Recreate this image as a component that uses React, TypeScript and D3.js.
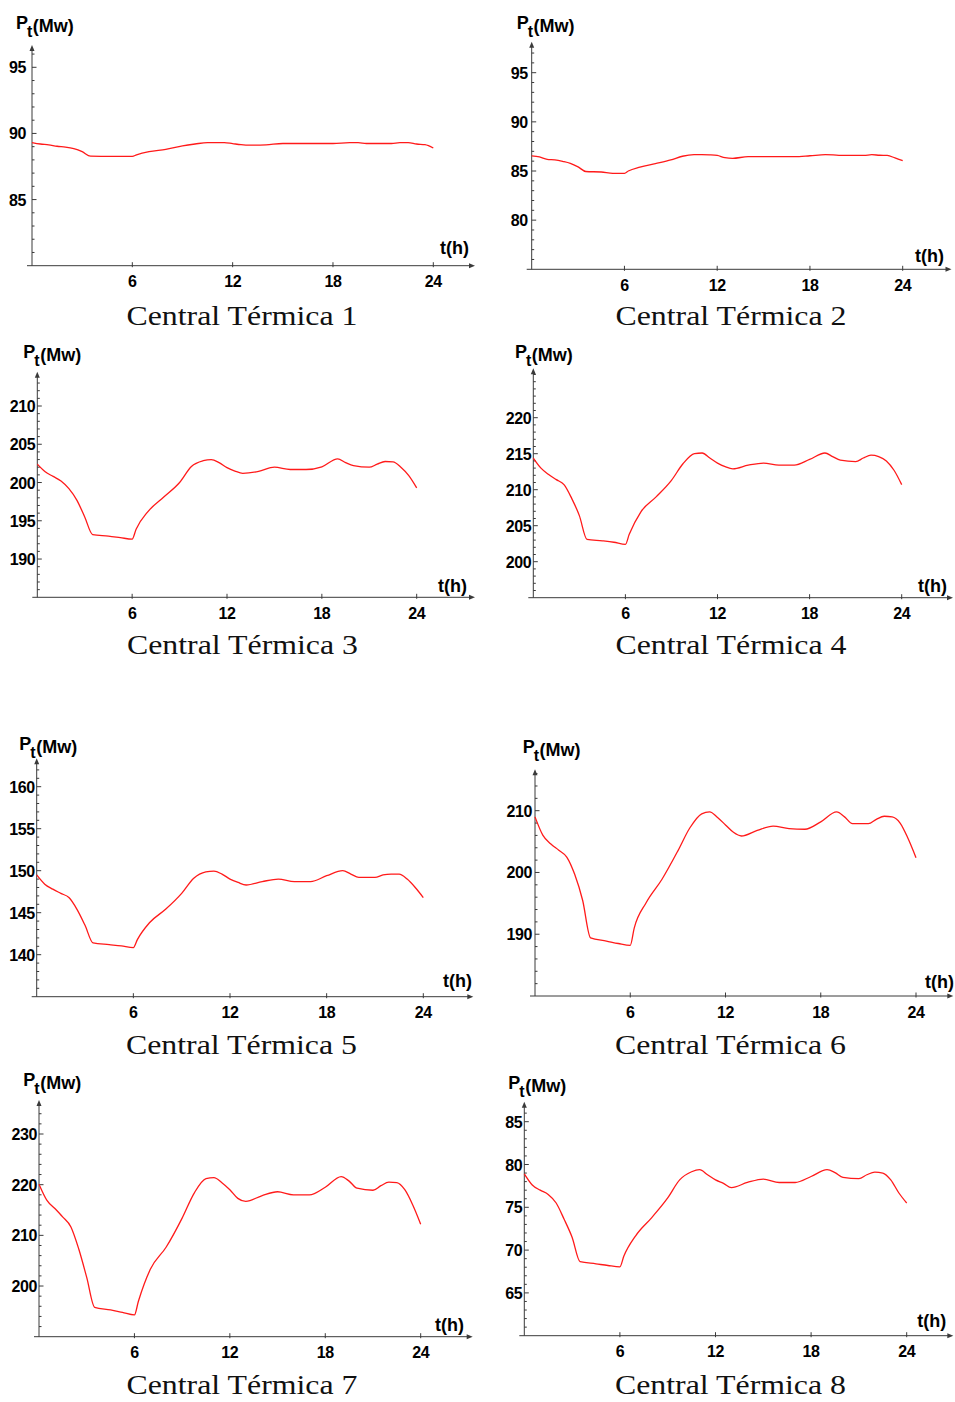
import React from "react";
import * as d3 from "d3";

// ---- Data ----
const hours = [0, 0.5, 1, 1.5, 2, 2.5, 3, 3.5, 4.5, 5.25, 6, 6.25, 7, 8, 9, 9.75, 10.5, 11, 11.5, 12, 12.5, 13, 14, 15, 16, 17, 18, 19, 19.5, 20, 21, 21.5, 22, 22.5, 23, 23.5, 24];

const central1 = [89.31, 89.2, 89.14, 89.03, 88.97, 88.85, 88.62, 88.28, 88.27, 88.27, 88.27, 88.38, 88.62, 88.8, 89.06, 89.2, 89.31, 89.31, 89.31, 89.23, 89.15, 89.11, 89.14, 89.24, 89.24, 89.24, 89.24, 89.31, 89.31, 89.24, 89.24, 89.24, 89.31, 89.31, 89.2, 89.15, 88.9];
const central2 = [86.53, 86.43, 86.19, 86.13, 85.98, 85.78, 85.42, 84.95, 84.9, 84.76, 84.76, 85.0, 85.4, 85.75, 86.12, 86.5, 86.66, 86.66, 86.64, 86.58, 86.35, 86.29, 86.46, 86.46, 86.46, 86.46, 86.55, 86.66, 86.64, 86.59, 86.59, 86.59, 86.66, 86.6, 86.58, 86.33, 86.05];
const central3 = [202.4, 201.4, 200.8, 200.2, 199.2, 197.7, 195.5, 193.2, 193.0, 192.8, 192.6, 193.9, 196.2, 198.1, 200.0, 202.1, 202.85, 203.0, 202.6, 201.95, 201.5, 201.2, 201.45, 202.0, 201.7, 201.7, 202.05, 203.1, 202.6, 202.2, 202.0, 202.4, 202.75, 202.7, 202.0, 200.9, 199.3];
const central4 = [214.4, 213.0, 212.1, 211.4, 210.7, 208.8, 206.4, 203.1, 202.9, 202.7, 202.4, 203.8, 206.9, 209.0, 211.3, 213.6, 215.0, 215.1, 214.4, 213.7, 213.2, 212.9, 213.4, 213.7, 213.4, 213.4, 214.2, 215.1, 214.6, 214.1, 213.9, 214.4, 214.8, 214.6, 214.0, 212.7, 210.7];
const central5 = [149.5, 148.4, 147.8, 147.3, 146.8, 145.4, 143.5, 141.4, 141.2, 141.05, 140.85, 141.8, 143.8, 145.4, 147.3, 149.1, 149.85, 149.95, 149.6, 149.0, 148.6, 148.3, 148.7, 149.0, 148.7, 148.7, 149.4, 150.0, 149.6, 149.2, 149.2, 149.5, 149.6, 149.6, 149.0, 148.0, 146.8];
const central6 = [209.0, 206.0, 204.6, 203.6, 202.5, 199.7, 195.5, 189.4, 188.9, 188.5, 188.2, 191.0, 195.1, 198.9, 203.5, 207.2, 209.5, 209.8, 208.9, 207.7, 206.5, 205.9, 206.8, 207.5, 207.1, 207.0, 208.2, 209.8, 209.0, 207.9, 207.9, 208.6, 209.1, 209.0, 208.0, 205.5, 202.4];
const central7 = [220.1, 216.9, 215.3, 213.6, 211.7, 207.3, 201.7, 195.8, 195.3, 194.8, 194.3, 197.0, 203.3, 207.7, 213.4, 218.3, 221.2, 221.4, 220.4, 219.0, 217.3, 216.7, 217.8, 218.6, 218.0, 218.0, 219.5, 221.6, 220.7, 219.3, 218.9, 219.8, 220.5, 220.4, 219.0, 216.0, 212.2];
const central8 = [78.9, 77.6, 77.0, 76.5, 75.5, 73.6, 71.5, 68.65, 68.4, 68.2, 68.05, 69.3, 71.7, 73.8, 76.1, 78.2, 79.15, 79.4, 78.8, 78.2, 77.8, 77.3, 77.9, 78.3, 77.9, 77.9, 78.6, 79.4, 79.06, 78.5, 78.35, 78.8, 79.1, 79.0, 78.2, 76.7, 75.5];

const xTicks = [6, 12, 18, 24];
const yTicks1 = [85, 90, 95];
const yTicks2 = [80, 85, 90, 95];
const yTicks3 = [190, 195, 200, 205, 210];
const yTicks4 = [200, 205, 210, 215, 220];
const yTicks5 = [140, 145, 150, 155, 160];
const yTicks6 = [190, 200, 210];
const yTicks7 = [200, 210, 220, 230];
const yTicks8 = [65, 70, 75, 80, 85];

const titles = ["Central Térmica 1", "Central Térmica 2", "Central Térmica 3", "Central Térmica 4", "Central Térmica 5", "Central Térmica 6", "Central Térmica 7", "Central Térmica 8"];

// ---- Layout (pixels) ----
type Panel = {
  values: number[]; ticks: number[]; minorStep: number;
  yDomain: [number, number]; yRange: [number, number];
  axisX: number; x24: number; baseY: number; arrowX: number; topY: number;
  labelL: number; labelB: number; thX: number; thB: number;
  titleX: number; titleB: number; tickGap: number;
};

const panels: Panel[] = [
  { values: central1, ticks: yTicks1, minorStep: 1, yDomain: [80, 95], yRange: [265.7, 67.3], axisX: 32, x24: 433.3, baseY: 265.7, arrowX: 475, topY: 45, labelL: 16, labelB: 31.7, thX: 440, thB: 253.5, titleX: 242, titleB: 325, tickGap: 6 },
  { values: central2, ticks: yTicks2, minorStep: 1, yDomain: [75, 95], yRange: [269.3, 72.7], axisX: 531.7, x24: 902.7, baseY: 269.3, arrowX: 951.5, topY: 41.7, labelL: 516.7, labelB: 31.7, thX: 915, thB: 261.5, titleX: 731, titleB: 325, tickGap: 4 },
  { values: central3, ticks: yTicks3, minorStep: 1, yDomain: [185, 210], yRange: [597.3, 406], axisX: 37.3, x24: 416.7, baseY: 597.3, arrowX: 475, topY: 371.7, labelL: 23.3, labelB: 360.7, thX: 438, thB: 591.5, titleX: 242.5, titleB: 653.5, tickGap: 2 },
  { values: central4, ticks: yTicks4, minorStep: 1, yDomain: [195, 220], yRange: [597.7, 417.7], axisX: 533.3, x24: 901.7, baseY: 597.7, arrowX: 953, topY: 368.3, labelL: 515, labelB: 360.7, thX: 918, thB: 591.5, titleX: 731, titleB: 654, tickGap: 2 },
  { values: central5, ticks: yTicks5, minorStep: 1, yDomain: [135, 160], yRange: [996.7, 786.7], axisX: 36.7, x24: 423.3, baseY: 996.7, arrowX: 473.3, topY: 758.3, labelL: 19.3, labelB: 753.3, thX: 443, thB: 986.5, titleX: 241.5, titleB: 1053.5, tickGap: 2 },
  { values: central6, ticks: yTicks6, minorStep: 2, yDomain: [180, 210], yRange: [996, 810.7], axisX: 535, x24: 916, baseY: 996, arrowX: 953.3, topY: 769.3, labelL: 522.7, labelB: 756, thX: 925, thB: 988, titleX: 730.5, titleB: 1053.5, tickGap: 3 },
  { values: central7, ticks: yTicks7, minorStep: 2, yDomain: [190, 230], yRange: [1336.7, 1134], axisX: 39, x24: 420.7, baseY: 1336.7, arrowX: 472.7, topY: 1100, labelL: 23.3, labelB: 1089.3, thX: 435, thB: 1330.5, titleX: 242, titleB: 1394, tickGap: 2 },
  { values: central8, ticks: yTicks8, minorStep: 1, yDomain: [60, 85], yRange: [1335.7, 1121.7], axisX: 524.3, x24: 906.7, baseY: 1335.7, arrowX: 953.3, topY: 1101.7, labelL: 508.3, labelB: 1091.7, thX: 917.3, thB: 1326.5, titleX: 730.5, titleB: 1394, tickGap: 2 },
];

const AXIS = "#3a3a3a";
const SANS = "'Liberation Sans', Arial, sans-serif";
const SERIF = "'Liberation Serif', 'DejaVu Serif', serif";

function PanelChart({ p, title }: { p: Panel; title: string }) {
  const x = d3.scaleLinear().domain([0, 24]).range([p.axisX, p.x24]);
  const y = d3.scaleLinear().domain(p.yDomain).range(p.yRange);
  const line = d3.line<number>().x((_, i) => x(hours[i])).y((v) => y(v)).curve(d3.curveMonotoneX);
  const topVal = y.invert(p.topY + 4);
  const minors: number[] = [];
  for (let v = p.yDomain[0] + p.minorStep; v <= topVal; v += p.minorStep) {
    if (!p.ticks.includes(v)) minors.push(v);
  }
  return (
    <g>
      {/* axes */}
      <line x1={p.axisX - 5} x2={p.arrowX - 4} y1={p.baseY} y2={p.baseY} stroke={AXIS} strokeWidth={1} />
      <path d={`M${p.arrowX},${p.baseY} L${p.arrowX - 6},${p.baseY - 2.5} L${p.arrowX - 6},${p.baseY + 2.5} Z`} fill={AXIS} />
      <line x1={p.axisX} x2={p.axisX} y1={p.baseY} y2={p.topY + 4} stroke={AXIS} strokeWidth={1} />
      <path d={`M${p.axisX},${p.topY} L${p.axisX - 2.5},${p.topY + 6} L${p.axisX + 2.5},${p.topY + 6} Z`} fill={AXIS} />
      {/* y ticks */}
      {minors.map((v) => (
        <line key={"m" + v} x1={p.axisX} x2={p.axisX + 2.5} y1={y(v)} y2={y(v)} stroke={AXIS} strokeWidth={1} />
      ))}
      {p.ticks.map((v) => (
        <g key={"t" + v}>
          <line x1={p.axisX} x2={p.axisX + 4.5} y1={y(v)} y2={y(v)} stroke={AXIS} strokeWidth={1} />
          <text x={p.axisX - p.tickGap} y={y(v) + 6} textAnchor="end" fontFamily={SANS} fontWeight="bold" fontSize={16} letterSpacing={-0.4} fill="#000">{v}</text>
        </g>
      ))}
      {/* x ticks */}
      {xTicks.map((t) => (
        <g key={"x" + t}>
          <line x1={x(t)} x2={x(t)} y1={p.baseY - 3.5} y2={p.baseY + 1.5} stroke={AXIS} strokeWidth={1} />
          <text x={x(t)} y={p.baseY + 21.5} textAnchor="middle" fontFamily={SANS} fontWeight="bold" fontSize={16} letterSpacing={-0.4} fill="#000">{t}</text>
        </g>
      ))}
      {/* series */}
      <path d={line(p.values) || ""} fill="none" stroke="#ff1a1a" strokeWidth={1.3} strokeLinejoin="round" />
      {/* axis labels */}
      <text x={p.labelL} y={p.labelB - 3} fontFamily={SANS} fontWeight="bold" fontSize={18} fill="#000">
        P
        <tspan dx={-1} dy={8} fontSize={16}>t</tspan>
        <tspan dx={0.5} dy={-5} fontSize={18}>(Mw)</tspan>
      </text>
      <text x={p.thX} y={p.thB} fontFamily={SANS} fontWeight="bold" fontSize={18} fill="#000">t(h)</text>
      {/* title */}
      <text x={p.titleX} y={p.titleB} textAnchor="middle" fontFamily={SERIF} fontSize={27} textLength={231} lengthAdjust="spacingAndGlyphs" fill="#111">{title}</text>
    </g>
  );
}

export default function App() {
  return (
    <div style={{ position: "absolute", left: 0, top: 0 }}>
      <svg width={955} height={1402} viewBox="0 0 955 1402" style={{ display: "block", background: "#fff" }}>
        <rect width={955} height={1402} fill="#fff" />
        {panels.map((p, i) => (
          <PanelChart key={i} p={p} title={titles[i]} />
        ))}
      </svg>
    </div>
  );
}
